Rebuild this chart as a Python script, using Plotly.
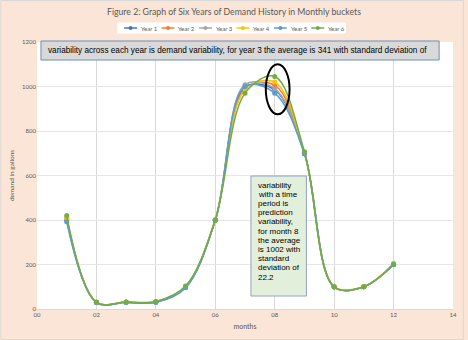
import plotly.graph_objects as go

months = [1, 2, 3, 4, 5, 6, 7, 8, 9, 10, 11, 12]
year_names = ["Year 1", "Year 2", "Year 3", "Year 4", "Year 5", "Year 6"]
year1 = [400, 30, 30, 30, 98, 400, 995, 985, 700, 100, 100, 200]
year2 = [405, 30, 31, 32, 100, 400, 990, 1005, 702, 100, 100, 203]
year3 = [410, 30, 30, 32, 100, 400, 1008, 990, 697, 100, 100, 200]
year4 = [408, 31, 31, 33, 102, 402, 985, 1020, 705, 101, 101, 206]
year5 = [392, 29, 29, 30, 95, 398, 1000, 970, 698, 99, 100, 199]
year6 = [420, 30, 31, 34, 103, 400, 970, 1045, 707, 99, 100, 201]
series = [year1, year2, year3, year4, year5, year6]
colors = ["#4472C4", "#ED7D31", "#A5A5A5", "#FFC000", "#5B9BD5", "#70AD47"]

title_text = "Figure 2: Graph of Six Years of Demand History in Monthly buckets"
note_top = ("variability across each year is demand variability, for year 3 the average "
            "is 341 with standard deviation of")
note_box_lines = ["variability", "with a time", "period is", "prediction", "variability,",
                  "for month 8", "the average", "is 1002 with", "standard", "deviation of", "22.2"]

W, H = 468, 340
L, R, T, B = 37, 11, 42, 31
PW, PH = W - L - R, H - T - B

def px(x):
    return (x - L) / PW

def py(y):
    return (H - B - y) / PH

fig = go.Figure()
for name, vals, c in zip(year_names, series, colors):
    fig.add_trace(go.Scatter(
        x=months, y=vals, name=name, mode="lines+markers",
        line=dict(color=c, width=1.5, shape="spline", smoothing=1),
        marker=dict(color=c, size=5), showlegend=False))

shapes = []
annotations = []

# page border
shapes.append(dict(type="rect", xref="paper", yref="paper",
                   x0=px(0.5), x1=px(W - 0.5), y0=py(H - 0.5), y1=py(0.5),
                   line=dict(color="#D9D9D9", width=1), fillcolor="rgba(0,0,0,0)", layer="below"))

# custom legend
shapes.append(dict(type="rect", xref="paper", yref="paper",
                   x0=px(118), x1=px(349), y0=py(33.5), y1=py(22.5),
                   line=dict(width=0), fillcolor="white", layer="above"))
for i, (name, c) in enumerate(zip(year_names, colors)):
    sx = 125 + i * 37.8
    shapes.append(dict(type="line", xref="paper", yref="paper",
                       x0=px(sx), x1=px(sx + 13), y0=py(28), y1=py(28),
                       line=dict(color=c, width=1.5), layer="above"))
    shapes.append(dict(type="circle", xref="paper", yref="paper",
                       x0=px(sx + 4.5), x1=px(sx + 8.5), y0=py(30), y1=py(26),
                       line=dict(color=c, width=0), fillcolor=c, layer="above"))
    annotations.append(dict(text=name, xref="paper", yref="paper",
                            x=px(sx + 15), y=py(28), xanchor="left", yanchor="middle",
                            showarrow=False, font=dict(family="Lato", size=6, color="#595959")))

# ellipse highlighting month 8
shapes.append(dict(type="circle", xref="x", yref="y",
                   x0=7.7, x1=8.5, y0=875, y1=1100,
                   line=dict(color="black", width=2), layer="above"))

# top note box
shapes.append(dict(type="rect", xref="paper", yref="paper",
                   x0=px(41), x1=px(443), y0=py(60), y1=py(41),
                   line=dict(color="#6F8DB9", width=1), fillcolor="#D9D9D9", layer="above"))
annotations.append(dict(text=note_top, xref="paper", yref="paper",
                        x=px(46.5), y=py(50.5), xanchor="left", yanchor="middle",
                        showarrow=False, font=dict(family="Liberation Sans", size=8.2, color="black")))

# green note box
shapes.append(dict(type="rect", xref="paper", yref="paper",
                   x0=px(253), x1=px(309), y0=py(296), y1=py(176),
                   line=dict(color="#8EA3C4", width=1), fillcolor="#E2EFDA", layer="above"))
for i, line in enumerate(note_box_lines):
    annotations.append(dict(text=line, xref="paper", yref="paper",
                            x=px(258.5), y=py(185 + 9.2 * i), xanchor="left", yanchor="middle",
                            showarrow=False,
                            font=dict(family="Liberation Sans", size=8, color="black")))

fig.update_layout(
    width=W, height=H,
    margin=dict(l=L, r=R, t=T, b=B),
    paper_bgcolor="#FBE5D6", plot_bgcolor="white",
    title=dict(text=title_text, x=0.5, xanchor="center", y=1 - 12 / H, yanchor="middle",
               font=dict(family="Lato", size=8.7, color="#595959")),
    shapes=shapes, annotations=annotations,
    xaxis=dict(range=[0, 14], dtick=2, tick0=0, tickformat="02d",
               showgrid=True, gridcolor="#D9D9D9", gridwidth=1,
               showline=True, linecolor="#D9D9D9", zeroline=False, ticks="",
               tickfont=dict(family="Lato", size=6, color="#595959"),
               title=dict(text="months", standoff=6,
                          font=dict(family="Lato", size=7, color="#595959"))),
    yaxis=dict(range=[0, 1200], dtick=200, tick0=0,
               showgrid=True, gridcolor="#E6E6E6", gridwidth=1,
               showline=False, zeroline=False, ticks="",
               tickfont=dict(family="Lato", size=6, color="#595959"),
               title=dict(text="demand in gallons", standoff=6,
                          font=dict(family="Lato", size=6.5, color="#595959"))),
)

fig.write_html("out.html")
